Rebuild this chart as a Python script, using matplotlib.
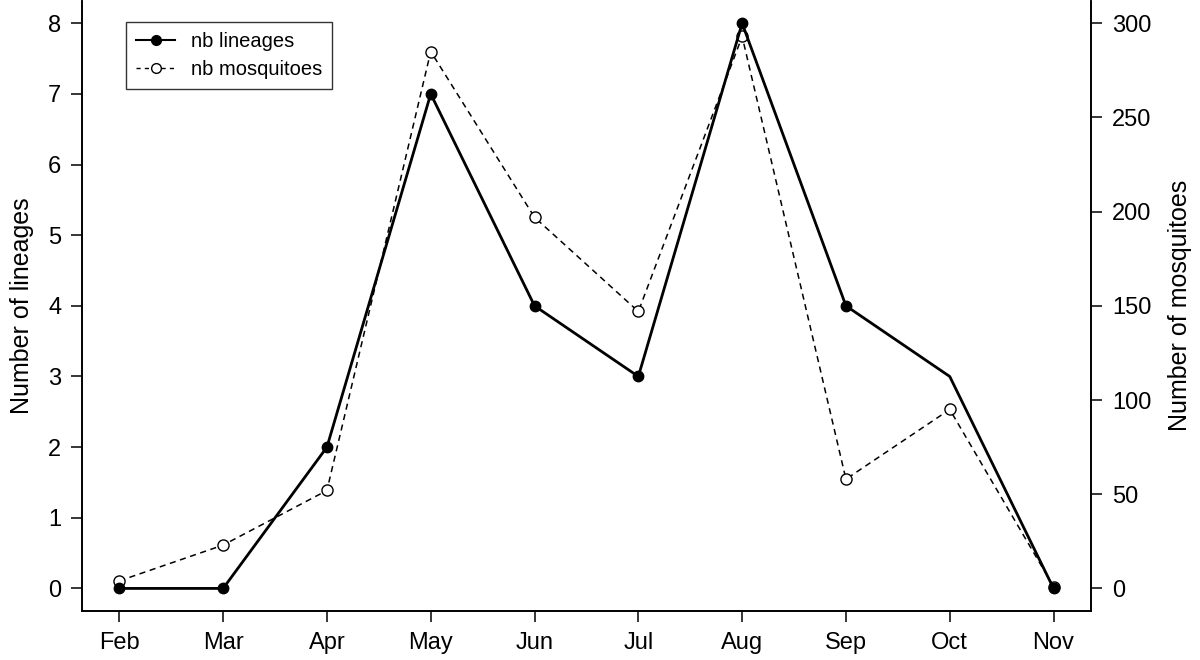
import matplotlib
matplotlib.use("Agg")
import matplotlib.pyplot as plt
from matplotlib.lines import Line2D

# Monthly counts
months = ["Feb", "Mar", "Apr", "May", "Jun", "Jul", "Aug", "Sep", "Oct", "Nov"]
nb_lineages = [0, 0, 2, 7, 4, 3, 8, 4, 3, 0]
nb_mosquitoes = [4, 23, 52, 285, 197, 147, 293, 58, 95, 1]
# the Oct lineage point has no marker in the original figure
lineage_marked = [True, True, True, True, True, True, True, True, False, True]

plt.rcParams["font.family"] = ["Liberation Sans", "DejaVu Sans"]

fig = plt.figure(figsize=(12, 6.6), dpi=100)
ax = fig.add_axes([0.0683, 0.0742, 0.8408, 0.9248])
ax2 = ax.twinx()

x = list(range(len(months)))

# mosquitoes (right axis)
ax2.plot(x, nb_mosquitoes, color="black", linestyle=(0, (4, 3)), linewidth=1.1,
         marker="o", markersize=8, markerfacecolor="white",
         markeredgecolor="black", markeredgewidth=1.0)

# lineages (left axis)
ax.plot(x, nb_lineages, color="black", linewidth=2.0, zorder=3)
mx = [xi for xi, m in zip(x, lineage_marked) if m]
my = [yi for yi, m in zip(nb_lineages, lineage_marked) if m]
ax.plot(mx, my, linestyle="none", marker="o", markersize=7.5,
        color="black", zorder=4)
ax.set_zorder(ax2.get_zorder() + 1)
ax.patch.set_visible(False)

ax.set_xlim(-0.36, 9.36)
ax.set_ylim(-0.32, 8.32)
ax2.set_ylim(-12, 312)

ax.set_xticks(x)
ax.set_xticklabels(months)
ax.set_yticks(range(0, 9))
ax2.set_yticks(range(0, 301, 50))

for a in (ax, ax2):
    a.spines["top"].set_visible(False)
    for s in a.spines.values():
        s.set_linewidth(1.2)
    a.tick_params(direction="out", length=8, width=1.1, labelsize=17, pad=7)

ax.set_ylabel("Number of lineages", fontsize=18, labelpad=10)
ax2.set_ylabel("Number of mosquitoes", fontsize=18, labelpad=12)

handles = [
    Line2D([], [], color="black", linewidth=1.5, marker="o", markersize=7),
    Line2D([], [], color="black", linewidth=1.0, linestyle=(0, (3, 3)),
           marker="o", markersize=7, markerfacecolor="white"),
]
leg = ax.legend(handles, ["nb lineages", "nb mosquitoes"], loc="upper left",
                bbox_to_anchor=(0.044, 0.965), fontsize=14.5, numpoints=1,
                handlelength=1.9, frameon=True, fancybox=False,
                borderpad=0.5, labelspacing=0.45, handletextpad=0.8,
                borderaxespad=0)
leg.get_frame().set_edgecolor("black")
leg.get_frame().set_linewidth(1.0)

fig.savefig("out.png", dpi=100)
